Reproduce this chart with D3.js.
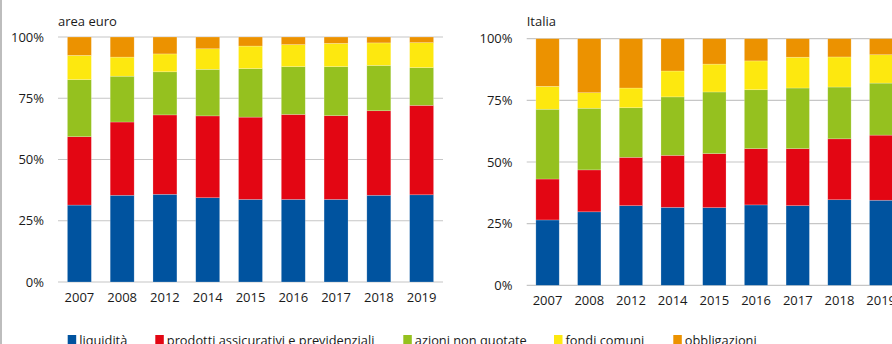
<!DOCTYPE html>
<html>
<head>
<meta charset="utf-8">
<script src="https://cdn.jsdelivr.net/npm/d3@7"></script>
<style>
  html, body { margin: 0; padding: 0; background: #fff; }
  svg { display: block; }
  text { font-family: "Open Sans", sans-serif; fill: #1a1a1a; }
</style>
</head>
<body>
<svg id="chart" width="892" height="344"></svg>
<script>
// Years shown on both panels
const years = ["2007", "2008", "2012", "2014", "2015", "2016", "2017", "2018", "2019"];

// Series names (legend order, stacked bottom to top)
const seriesNames = ["liquidità", "prodotti assicurativi e previdenziali", "azioni non quotate", "fondi comuni", "obbligazioni"];
const seriesColors = ["#00539f", "#e30613", "#95c11f", "#fde80f", "#ec9200"];

// Percent tick labels
const tickValues = [0, 25, 50, 75, 100];

// Euro area shares (%)
const euroLiquidita    = [31.4, 35.4, 35.8, 34.4, 33.7, 33.7, 33.7, 35.4, 35.6];
const euroAssicurativi = [27.9, 29.9, 32.4, 33.4, 33.6, 34.7, 34.2, 34.5, 36.5];
const euroAzioni       = [23.3, 18.7, 17.6, 19.0, 19.8, 19.5, 20.0, 18.5, 15.4];
const euroFondi        = [ 9.9,  7.8,  7.3,  8.4,  9.2,  9.0,  9.5,  9.2, 10.2];
const euroObbligazioni = [ 7.5,  8.2,  6.9,  4.8,  3.7,  3.1,  2.6,  2.4,  2.3];

// Italy shares (%)
const itaLiquidita    = [26.5, 29.8, 32.3, 31.6, 31.5, 32.6, 32.3, 34.7, 34.5];
const itaAssicurativi = [16.6, 17.0, 19.6, 21.1, 21.9, 22.8, 23.1, 24.7, 26.4];
const itaAzioni       = [28.3, 25.0, 20.1, 23.7, 25.0, 23.9, 24.6, 21.0, 21.1];
const itaFondi        = [ 9.3,  6.3,  8.0, 10.5, 11.3, 11.7, 12.5, 12.2, 11.5];
const itaObbligazioni = [19.3, 21.9, 20.0, 13.1, 10.3,  9.0,  7.5,  7.4,  6.5];

const svg = d3.select("#chart");

// thin grey frame line at the left edge
svg.append("rect").attr("x", 0).attr("y", 0).attr("width", 2).attr("height", 344).attr("fill", "#bdbdbd");

const panels = [
  { title: "area euro", series: [euroLiquidita, euroAssicurativi, euroAzioni, euroFondi, euroObbligazioni],
    x0: 58, x1: 443, yTop: 37, yBottom: 282, labelRight: 44 },
  { title: "Italia", series: [itaLiquidita, itaAssicurativi, itaAzioni, itaFondi, itaObbligazioni],
    x0: 526.7, x1: 902, yTop: 38.7, yBottom: 285.3, labelRight: 512.5 }
];

panels.forEach(p => {
  const g = svg.append("g");
  const x = d3.scaleBand().domain(years).range([p.x0, p.x1]).paddingInner(0.44).paddingOuter(0.22);
  const y = d3.scaleLinear().domain([0, 100]).range([p.yBottom, p.yTop]);

  // gridlines
  g.selectAll("line.grid").data(tickValues).join("line")
    .attr("x1", p.x0).attr("x2", p.x1)
    .attr("y1", d => y(d)).attr("y2", d => y(d))
    .attr("stroke", "#c6c6c6").attr("stroke-width", 1.2);

  // y tick labels
  g.selectAll("text.ytick").data(tickValues).join("text")
    .attr("x", p.labelRight).attr("y", d => y(d))
    .attr("dy", "0.35em").attr("text-anchor", "end")
    .attr("font-size", 13).text(d => d + "%");

  // stacked bars
  const rows = years.map((yr, i) => {
    const r = { year: yr };
    seriesNames.forEach((s, k) => { r[s] = p.series[k][i]; });
    return r;
  });
  const stacked = d3.stack().keys(seriesNames)(rows);
  g.selectAll("g.layer").data(stacked).join("g")
    .attr("fill", (d, k) => seriesColors[k])
    .selectAll("rect").data(d => d).join("rect")
      .attr("x", d => x(d.data.year))
      .attr("width", x.bandwidth())
      .attr("y", d => y(d[1]))
      .attr("height", d => y(d[0]) - y(d[1]))
      .attr("stroke", "rgba(255,255,255,0.35)").attr("stroke-width", 0.6);

  // x tick labels
  g.selectAll("text.xtick").data(years).join("text")
    .attr("x", d => x(d) + x.bandwidth() / 2)
    .attr("y", p.yBottom + 15).attr("dy", "0.35em")
    .attr("text-anchor", "middle").attr("font-size", 13).text(d => d);

  // panel title
  g.append("text").attr("x", p.x0).attr("y", 21).attr("dy", "0.35em")
    .attr("font-size", 13).text(p.title);
});

// legend along the bottom edge
const legendX = [67.7, 155.3, 403.3, 554, 673.3];
const lg = svg.append("g");
seriesNames.forEach((s, k) => {
  lg.append("rect").attr("x", legendX[k]).attr("y", 335).attr("width", 8.5).attr("height", 9).attr("fill", seriesColors[k]);
  lg.append("text").attr("x", legendX[k] + 11.5).attr("y", 345).attr("font-size", 12.8).text(s);
});
</script>
</body>
</html>
